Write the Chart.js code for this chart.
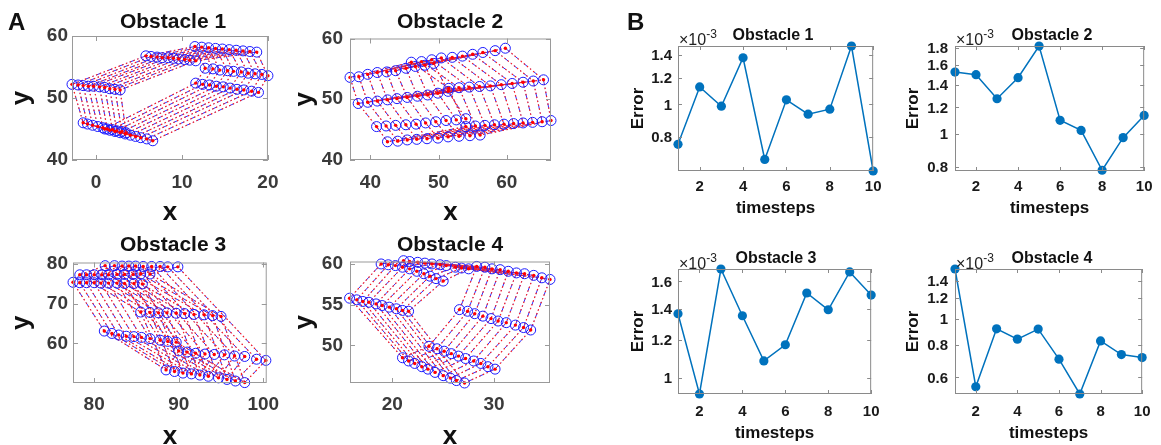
<!DOCTYPE html>
<html>
<head>
<meta charset="utf-8">
<script src="https://cdn.jsdelivr.net/npm/chart.js@4.4.0/dist/chart.umd.min.js"></script>
<style>
  body { margin: 0; background: #fff; width: 1161px; height: 445px; position: relative; overflow: hidden;
         font-family: "Liberation Sans", Arial, sans-serif; }
  canvas { position: absolute; }
  .lbl { position: absolute; line-height: 1; white-space: nowrap; font-weight: bold; color: #111; }
  .ctr { transform: translate(-50%, -50%); }
  .mid { transform: translateY(-50%); }
  .exp { font-weight: normal; font-size: 16px; color: #222; }
  .exp sup { font-size: 12px; vertical-align: 7px; }
</style>
</head>
<body>
<canvas id="a1"></canvas><canvas id="a2"></canvas><canvas id="a3"></canvas><canvas id="a4"></canvas>
<canvas id="b1"></canvas><canvas id="b2"></canvas><canvas id="b3"></canvas><canvas id="b4"></canvas>

<div class="lbl mid" style="left:8px;top:22px;font-size:24px">A</div>
<div class="lbl mid" style="left:627px;top:22px;font-size:24px">B</div>
<div class="lbl ctr" style="left:173px;top:20px;font-size:21px">Obstacle 1</div>
<div class="lbl ctr" style="left:450px;top:20px;font-size:21px">Obstacle 2</div>
<div class="lbl ctr" style="left:173px;top:243px;font-size:21px">Obstacle 3</div>
<div class="lbl ctr" style="left:450px;top:243px;font-size:21px">Obstacle 4</div>
<div class="lbl ctr" style="left:773px;top:35px;font-size:16px">Obstacle 1</div>
<div class="lbl ctr" style="left:1052px;top:35px;font-size:16px">Obstacle 2</div>
<div class="lbl ctr" style="left:776px;top:258px;font-size:16px">Obstacle 3</div>
<div class="lbl ctr" style="left:1052px;top:258px;font-size:16px">Obstacle 4</div>
<div class="lbl mid exp" style="left:679px;top:38px">×10<sup>-3</sup></div>
<div class="lbl mid exp" style="left:956px;top:38px">×10<sup>-3</sup></div>
<div class="lbl mid exp" style="left:679px;top:262px">×10<sup>-3</sup></div>
<div class="lbl mid exp" style="left:956px;top:262px">×10<sup>-3</sup></div>

<script>
// ---- panel A: tracked vertex positions over 10 timesteps (one row per vertex)
const obs1X = [
  [-2.8, -2.1, -1.5, -0.9, -0.3, 0.4, 1.0, 1.6, 2.2, 2.8],
  [-1.5, -1.0, -0.4, 0.2, 0.8, 1.3, 1.9, 2.4, 3.0, 3.5],
  [1.0, 1.6, 2.2, 2.8, 3.4, 4.0, 4.6, 5.2, 5.9, 6.6],
  [11.6, 12.4, 13.2, 14.0, 14.8, 15.6, 16.4, 17.2, 18.1, 18.9],
  [12.7, 13.6, 14.4, 15.3, 16.0, 16.9, 17.7, 18.5, 19.3, 20.0],
  [11.5, 12.3, 13.1, 13.9, 14.7, 15.5, 16.3, 17.1, 17.9, 18.7],
  [5.8, 6.4, 7.1, 7.7, 8.4, 9.0, 9.6, 10.3, 10.9, 11.6]
];
const obs1Y = [
  [52.2, 52.1, 52.0, 51.9, 51.9, 51.8, 51.7, 51.5, 51.4, 51.3],
  [46.0, 45.8, 45.6, 45.4, 45.2, 45.0, 44.9, 44.7, 44.6, 44.4],
  [45.0, 44.8, 44.6, 44.4, 44.2, 44.0, 43.8, 43.6, 43.4, 43.1],
  [52.4, 52.2, 52.1, 51.9, 51.8, 51.6, 51.4, 51.3, 51.1, 50.9],
  [54.8, 54.7, 54.5, 54.4, 54.3, 54.2, 54.0, 53.9, 53.8, 53.6],
  [58.3, 58.2, 58.1, 58.0, 57.9, 57.8, 57.7, 57.6, 57.5, 57.4],
  [56.8, 56.7, 56.6, 56.5, 56.5, 56.4, 56.3, 56.2, 56.1, 56.0]
];
const obs1Edges = [[0, 1], [1, 2], [2, 3], [3, 4], [4, 5], [5, 6], [6, 0]];

const obs2X = [
  [37.0, 38.3, 39.6, 41.0, 42.4, 43.7, 45.2, 46.6, 48.0, 49.3],
  [46.0, 47.5, 49.0, 50.4, 52.0, 53.5, 55.0, 56.5, 58.3, 59.8],
  [51.5, 53.0, 54.5, 56.0, 57.6, 59.2, 60.8, 62.4, 63.9, 65.4],
  [38.2, 39.6, 41.0, 42.5, 43.9, 45.4, 46.9, 48.4, 49.9, 51.4],
  [40.9, 42.3, 43.7, 45.2, 46.7, 48.1, 49.6, 51.1, 52.6, 54.0],
  [42.5, 44.0, 45.4, 46.8, 48.3, 49.9, 51.4, 53.0, 54.6, 56.1],
  [54.0, 55.4, 56.8, 58.2, 59.6, 61.0, 62.4, 63.8, 65.2, 66.5]
];
const obs2Y = [
  [53.6, 53.7, 54.1, 54.4, 54.5, 54.7, 55.1, 55.4, 55.6, 55.9],
  [56.1, 56.2, 56.5, 56.8, 56.9, 57.1, 57.4, 57.7, 58.0, 58.4],
  [51.8, 51.9, 52.0, 52.1, 52.2, 52.4, 52.6, 52.8, 53.0, 53.2],
  [49.3, 49.5, 49.7, 49.9, 50.1, 50.3, 50.5, 50.7, 51.0, 51.3],
  [45.5, 45.6, 45.7, 45.8, 45.9, 46.1, 46.3, 46.5, 46.6, 46.8],
  [43.0, 43.1, 43.3, 43.4, 43.5, 43.6, 43.8, 43.9, 44.0, 44.1],
  [45.5, 45.6, 45.7, 45.8, 45.9, 46.0, 46.1, 46.2, 46.3, 46.5]
];
const obs2Edges = [[0, 1], [1, 2], [2, 6], [6, 5], [5, 4], [4, 3], [3, 0], [3, 2]];

const obs3X = [
  [81.3, 82.4, 83.3, 84.1, 84.9, 85.8, 86.8, 87.8, 88.7, 89.9],
  [78.3, 79.1, 80.0, 80.9, 81.7, 82.7, 83.6, 84.6, 85.5, 86.6],
  [77.5, 78.3, 79.1, 80.0, 80.8, 81.7, 82.7, 83.6, 84.7, 85.7],
  [85.5, 86.6, 87.6, 88.6, 89.7, 90.7, 91.8, 93.0, 94.0, 95.0],
  [81.2, 82.1, 82.9, 83.8, 84.7, 85.6, 86.6, 87.8, 88.7, 89.7],
  [90.0, 91.0, 92.0, 93.1, 94.2, 95.4, 96.6, 97.8, 99.2, 100.3],
  [88.5, 89.5, 90.5, 91.5, 92.5, 93.5, 94.7, 95.7, 96.7, 97.8]
];
const obs3Y = [
  [79.6, 79.6, 79.5, 79.5, 79.5, 79.4, 79.4, 79.4, 79.3, 79.3],
  [77.3, 77.3, 77.3, 77.3, 77.3, 77.4, 77.4, 77.4, 77.5, 77.5],
  [75.4, 75.3, 75.3, 75.3, 75.2, 75.2, 75.2, 75.1, 75.1, 75.0],
  [67.9, 67.8, 67.7, 67.7, 67.6, 67.5, 67.3, 67.2, 67.0, 66.8],
  [63.1, 62.5, 62.1, 61.8, 61.7, 61.5, 61.2, 60.8, 60.5, 60.3],
  [58.1, 57.8, 57.5, 57.3, 57.2, 57.1, 56.8, 56.7, 56.0, 55.7],
  [53.3, 52.9, 52.5, 52.3, 52.0, 51.7, 51.3, 50.9, 50.5, 50.1]
];
const obs3Edges = [[0, 1], [1, 2], [2, 4], [4, 6], [6, 5], [5, 0], [1, 3], [3, 6]];

const obs4X = [
  [18.9, 19.6, 20.3, 21.0, 21.7, 22.4, 23.1, 23.7, 24.3, 25.0],
  [21.1, 21.7, 22.5, 23.2, 23.9, 24.7, 25.3, 26.2, 26.8, 27.5],
  [28.3, 29.1, 29.8, 30.6, 31.4, 32.2, 33.0, 33.9, 34.7, 35.5],
  [26.6, 27.4, 28.1, 28.9, 29.7, 30.4, 31.2, 32.1, 32.9, 33.6],
  [15.8, 16.5, 17.1, 17.7, 18.4, 19.0, 19.7, 20.4, 21.0, 21.6],
  [23.6, 24.4, 25.1, 25.8, 26.5, 27.2, 28.0, 28.7, 29.4, 30.1],
  [21.0, 21.6, 22.2, 22.9, 23.5, 24.2, 25.0, 25.7, 26.3, 27.1]
];
const obs4Y = [
  [60.0, 59.9, 59.8, 59.6, 59.4, 59.1, 58.8, 58.5, 58.2, 57.9],
  [60.4, 60.3, 60.2, 60.1, 60.0, 59.9, 59.8, 59.6, 59.5, 59.4],
  [59.7, 59.6, 59.4, 59.3, 59.1, 58.9, 58.8, 58.6, 58.3, 58.1],
  [54.4, 54.2, 53.9, 53.6, 53.3, 53.0, 52.8, 52.5, 52.2, 51.9],
  [55.8, 55.6, 55.4, 55.3, 55.1, 54.9, 54.7, 54.5, 54.3, 54.2],
  [49.9, 49.6, 49.3, 49.0, 48.7, 48.4, 48.1, 47.8, 47.4, 47.1],
  [48.5, 48.1, 47.8, 47.4, 47.1, 46.7, 46.3, 46.0, 45.7, 45.4]
];
const obs4Edges = [[4, 0], [0, 1], [1, 2], [2, 3], [3, 5], [5, 6], [6, 4]];

// ---- panel B: error per timestep (units of 1e-3)
const steps = [1, 2, 3, 4, 5, 6, 7, 8, 9, 10];
const err1 = [0.762, 1.127, 0.988, 1.375, 0.687, 1.032, 0.936, 0.968, 1.49, 0.635];
const err2 = [1.525, 1.498, 1.273, 1.468, 1.819, 1.10, 1.027, 0.784, 0.978, 1.137];
const err3 = [1.366, 0.923, 1.70, 1.353, 1.085, 1.174, 1.512, 1.393, 1.676, 1.497];
const err4 = [1.55, 0.553, 0.918, 0.839, 0.916, 0.704, 0.519, 0.826, 0.733, 0.714];

// tick labels
const a1XTicks = [0, 10, 20], a1YTicks = [40, 50, 60];
const a2XTicks = [40, 50, 60], a2YTicks = [40, 50, 60];
const a3XTicks = [80, 90, 100], a3YTicks = [60, 70, 80];
const a4XTicks = [20, 30], a4YTicks = [50, 55, 60];
const bXTicks = [2, 4, 6, 8, 10];
const b1YTicks = [0.8, 1, 1.2, 1.4];
const b2YTicks = [0.8, 1, 1.2, 1.4, 1.6, 1.8];
const b3YTicks = [1, 1.2, 1.4, 1.6];
const b4YTicks = [0.6, 0.8, 1, 1.2, 1.4];

const FONT = '"Liberation Sans", Arial, sans-serif';
const fmt = v => String(Math.round(v * 10) / 10);

// frame + inward tick marks, MATLAB style; optionally the y tick labels too
const framePlugin = {
  id: 'frame',
  afterDraw(chart) {
    const o = chart.options.plugins.frame;
    const {ctx, chartArea: a, scales: {x, y}} = chart;
    ctx.save();
    ctx.strokeStyle = o.color;
    ctx.lineWidth = 1;
    ctx.strokeRect(a.left + 0.5, a.top + 0.5, a.right - a.left - 1, a.bottom - a.top - 1);
    ctx.beginPath();
    x.ticks.forEach(t => {
      const p = Math.round(x.getPixelForValue(t.value)) + 0.5;
      ctx.moveTo(p, a.bottom); ctx.lineTo(p, a.bottom - o.len);
      ctx.moveTo(p, a.top); ctx.lineTo(p, a.top + o.len);
    });
    y.ticks.forEach(t => {
      const p = Math.round(y.getPixelForValue(t.value)) + 0.5;
      ctx.moveTo(a.left, p); ctx.lineTo(a.left + o.len, p);
      ctx.moveTo(a.right, p); ctx.lineTo(a.right - o.len, p);
    });
    ctx.stroke();
    if (o.yLabels) {
      ctx.fillStyle = o.yLabels.color;
      ctx.font = 'bold ' + o.yLabels.size + 'px ' + FONT;
      ctx.textAlign = 'right';
      ctx.textBaseline = 'middle';
      y.ticks.forEach(t => ctx.fillText(fmt(t.value), a.left - o.yLabels.pad, y.getPixelForValue(t.value) + 1));
    }
    ctx.restore();
  }
};

function makeChart(id, g, datasets, sx, sy, st) {
  const cv = document.getElementById(id);
  const w = g.cr - g.cl, h = g.cb - g.ct;
  cv.width = w; cv.height = h;
  cv.style.left = g.cl + 'px'; cv.style.top = g.ct + 'px';
  const yW = g.plot[0] - g.cl, padTop = g.plot[1] - g.ct;
  const padRight = g.cr - g.plot[2], xH = g.cb - g.plot[3];
  const tickFont = size => ({family: FONT, size, weight: 'bold', lineHeight: 1});
  const setTicks = vals => s => { s.ticks = vals.map(v => ({value: v, label: fmt(v)})); };
  const setLabels = s => { s.ticks.forEach(t => { t.label = fmt(t.value); }); };
  const ownY = sy.type === 'logarithmic';
  new Chart(cv, {
    type: 'scatter',
    data: {datasets},
    options: {
      responsive: false, animation: false, events: [],
      layout: {padding: {top: padTop, right: padRight, left: 0, bottom: 0}},
      plugins: {
        legend: {display: false}, tooltip: {enabled: false},
        frame: {color: st.box, len: st.len,
                yLabels: ownY ? {color: st.tickColor, size: st.ytick, pad: g.plot[0] - g.yTick} : null}
      },
      scales: {
        x: {
          type: 'linear', min: sx.min, max: sx.max, bounds: 'data',
          afterBuildTicks: setTicks(sx.ticks), afterTickToLabelConversion: setLabels,
          afterFit: s => { s.height = xH; },
          grid: {display: false, drawTicks: false}, border: {display: false},
          ticks: {padding: g.xTick - g.plot[3] - st.tick / 2, color: st.tickColor, font: tickFont(st.tick),
                  maxRotation: 0, autoSkip: false},
          title: {display: true, text: sx.title, color: '#111', font: tickFont(st.title),
                  padding: {top: 0, bottom: g.cb - g.xTitle - st.title / 2}}
        },
        y: {
          type: sy.type, min: sy.min, max: sy.max, bounds: 'data', position: 'left',
          afterBuildTicks: setTicks(sy.ticks), afterTickToLabelConversion: setLabels,
          afterFit: s => { s.width = yW; },
          grid: {display: false, drawTicks: false}, border: {display: false},
          ticks: {display: !ownY, padding: g.plot[0] - g.yTick, color: st.tickColor,
                  font: tickFont(st.ytick || st.tick), autoSkip: false},
          title: {display: true, text: sy.title, color: '#111', font: tickFont(st.title),
                  padding: {top: g.yTitle - g.cl - st.title / 2, bottom: 0}}
        }
      }
    },
    plugins: [framePlugin]
  });
}

function trackSets(xs, ys, edges) {
  const seg = [];
  edges.forEach(([i, j]) => {
    for (let t = 0; t < xs[i].length; t++) {
      seg.push({x: xs[i][t], y: ys[i][t]}, {x: xs[j][t], y: ys[j][t]}, {x: NaN, y: NaN});
    }
  });
  const pts = [];
  xs.forEach((row, i) => row.forEach((x, t) => pts.push({x, y: ys[i][t]})));
  return [
    {data: pts, showLine: false, pointRadius: 1.7, pointBackgroundColor: '#ff0000', pointBorderWidth: 0, clip: false},
    {data: pts, showLine: false, pointRadius: 5, pointBorderColor: '#1a1aff', pointBackgroundColor: 'rgba(0,0,0,0)',
     pointBorderWidth: 1, clip: false},
    {data: seg, showLine: true, spanGaps: false, borderColor: '#ff2020', borderWidth: 1.2, borderDash: [1.5, 2.5],
     pointRadius: 0},
    {data: seg, showLine: true, spanGaps: false, borderColor: '#3030ff', borderWidth: 1, borderDash: [5, 3, 1, 3],
     pointRadius: 0}
  ];
}

function errSet(vals) {
  return [{
    data: steps.map((s, i) => ({x: s, y: vals[i]})), showLine: true, clip: false,
    borderColor: '#0072BD', borderWidth: 1.5,
    pointRadius: 4.6, pointBackgroundColor: '#0072BD', pointBorderWidth: 0
  }];
}

const styleA = {box: '#9a9a9a', len: 5, tick: 19, title: 26, tickColor: '#3a3a3a'};
const styleB = {box: '#8a8a8a', len: 4, tick: 15, ytick: 15, title: 17, tickColor: '#1a1a1a'};

makeChart('a1', {cl: 0, ct: 22, cr: 292, cb: 232, plot: [72, 36, 274, 160], xTick: 183, xTitle: 213, yTick: 68, yTitle: 22},
  trackSets(obs1X, obs1Y, obs1Edges),
  {min: -2.8, max: 20, ticks: a1XTicks, title: 'x'}, {type: 'linear', min: 40, max: 60, ticks: a1YTicks, title: 'y'}, styleA);
makeChart('a2', {cl: 290, ct: 22, cr: 569, cb: 232, plot: [350, 36, 551, 160], xTick: 183, xTitle: 213, yTick: 343, yTitle: 305},
  trackSets(obs2X, obs2Y, obs2Edges),
  {min: 37, max: 66.5, ticks: a2XTicks, title: 'x'}, {type: 'linear', min: 40, max: 60, ticks: a2YTicks, title: 'y'}, styleA);
makeChart('a3', {cl: 0, ct: 248, cr: 292, cb: 455, plot: [73, 262, 274, 383], xTick: 405, xTitle: 437, yTick: 68, yTitle: 22},
  trackSets(obs3X, obs3Y, obs3Edges),
  {min: 77.5, max: 100.4, ticks: a3XTicks, title: 'x'}, {type: 'linear', min: 50, max: 80.4, ticks: a3YTicks, title: 'y'}, styleA);
makeChart('a4', {cl: 290, ct: 245, cr: 569, cb: 455, plot: [350, 259, 550, 383], xTick: 405, xTitle: 437, yTick: 343, yTitle: 305},
  trackSets(obs4X, obs4Y, obs4Edges),
  {min: 15.84, max: 35.5, ticks: a4XTicks, title: 'x'}, {type: 'linear', min: 45.4, max: 60.3, ticks: a4YTicks, title: 'y'}, styleA);

makeChart('b1', {cl: 612, ct: 34, cr: 890, cb: 222, plot: [678, 46, 874, 171], xTick: 187, xTitle: 208, yTick: 672, yTitle: 638},
  errSet(err1), {min: 1, max: 10, ticks: bXTicks, title: 'timesteps'},
  {type: 'logarithmic', min: 0.635, max: 1.49, ticks: b1YTicks, title: 'Error'}, styleB);
makeChart('b2', {cl: 890, ct: 34, cr: 1161, cb: 222, plot: [955, 46, 1150, 171], xTick: 187, xTitle: 208, yTick: 948, yTitle: 913},
  errSet(err2), {min: 1, max: 10, ticks: bXTicks, title: 'timesteps'},
  {type: 'logarithmic', min: 0.78, max: 1.82, ticks: b2YTicks, title: 'Error'}, styleB);
makeChart('b3', {cl: 612, ct: 257, cr: 890, cb: 450, plot: [678, 269, 873, 394], xTick: 412, xTitle: 433, yTick: 672, yTitle: 638},
  errSet(err3), {min: 1, max: 10, ticks: bXTicks, title: 'timesteps'},
  {type: 'logarithmic', min: 0.923, max: 1.70, ticks: b3YTicks, title: 'Error'}, styleB);
makeChart('b4', {cl: 890, ct: 257, cr: 1161, cb: 450, plot: [955, 269, 1150, 394], xTick: 412, xTitle: 433, yTick: 948, yTitle: 913},
  errSet(err4), {min: 1, max: 10, ticks: bXTicks, title: 'timesteps'},
  {type: 'logarithmic', min: 0.519, max: 1.55, ticks: b4YTicks, title: 'Error'}, styleB);
</script>
</body>
</html>
